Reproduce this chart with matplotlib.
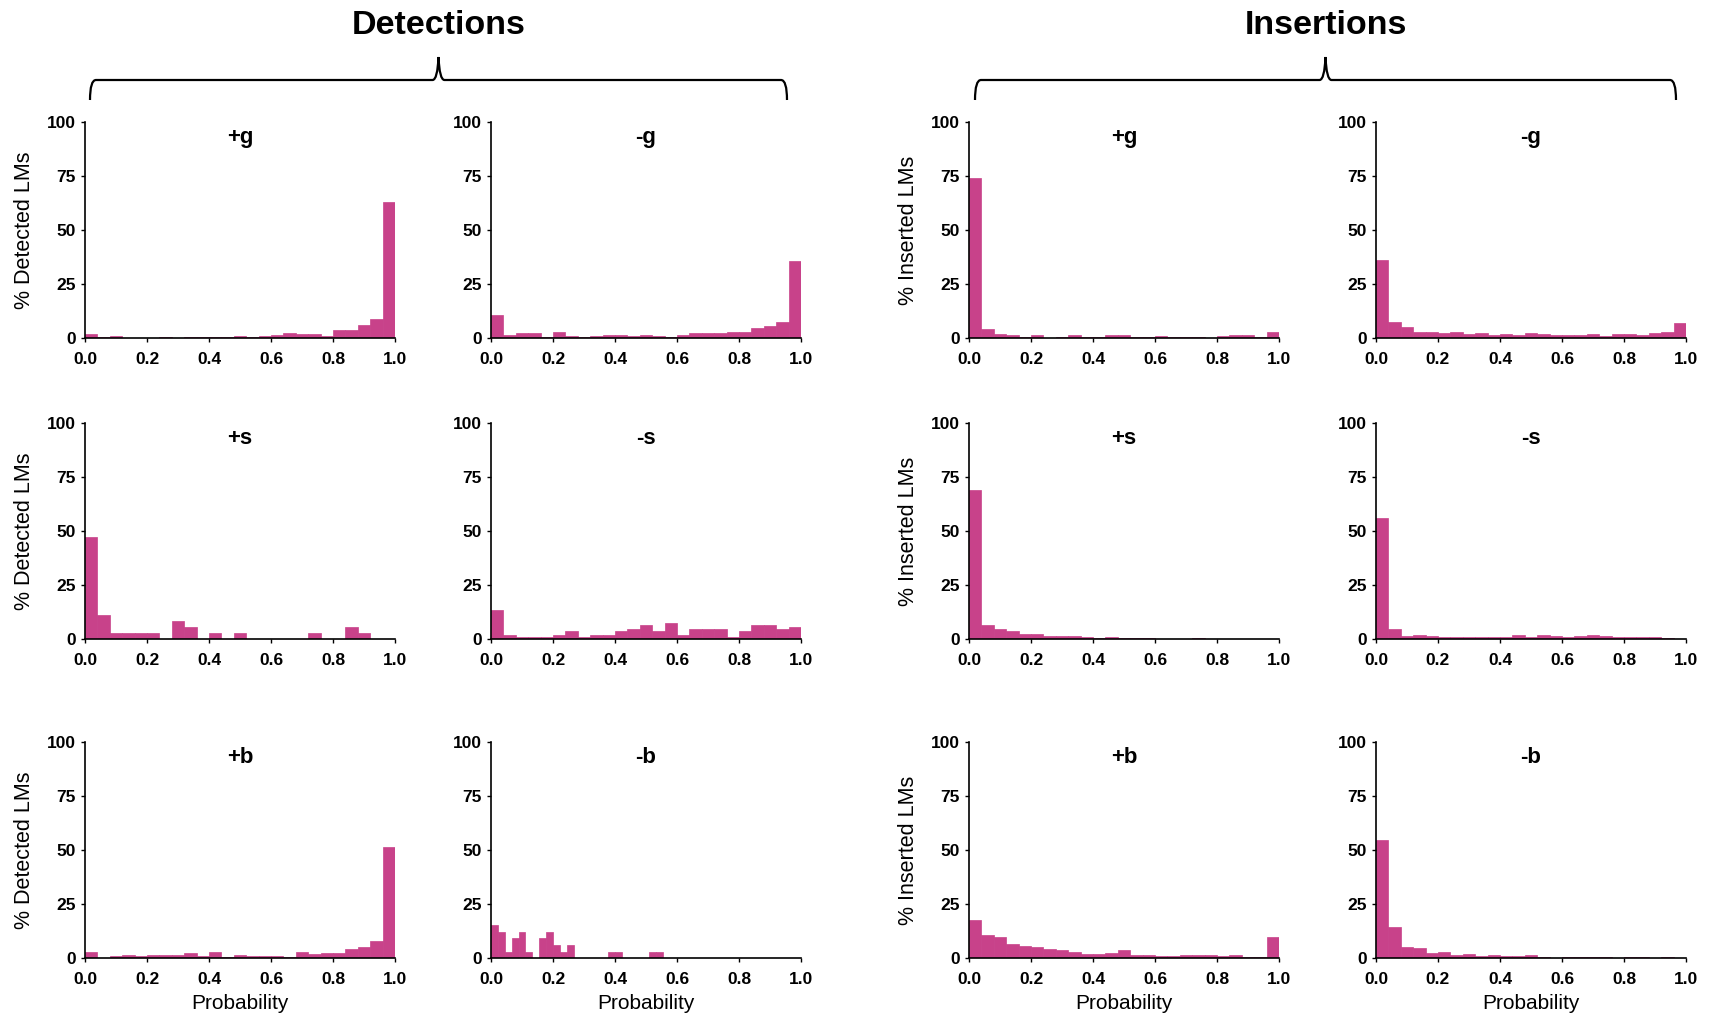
import numpy as np
import matplotlib.pyplot as plt
from matplotlib.path import Path
from matplotlib.patches import PathPatch

plt.rcParams['font.family'] = ['Liberation Sans', 'DejaVu Sans']

# 25 bins of width 0.04 (except Detections -b, 45 bins)
det_pg = [2, 0.5, 1, 0, 0, 0, 0.3, 0, 0.3, 0.3, 0.3, 0.3, 0.8, 0.3, 1, 1.5, 2.5, 2, 2, 1, 3.5, 3.5, 6, 9, 63]
det_mg = [10.5, 1.5, 2.5, 2.5, 0.5, 3, 1, 0.5, 1, 1.5, 1.5, 1, 1.5, 1, 0.5, 1.5, 2.5, 2.5, 2.5, 3, 3, 4.5, 5.5, 7.5, 35.5]
ins_pg = [74, 4, 2, 1.5, 0.5, 1.5, 0, 0.5, 1.5, 0.5, 0.5, 1.5, 1.5, 0.5, 0.5, 1, 0.3, 0.5, 0.5, 0, 1, 1.5, 1.5, 0.5, 3]
ins_mg = [36, 7.5, 5, 3, 3, 2.5, 3, 2, 2.5, 1.5, 2, 1.5, 2.5, 2, 1.5, 1.5, 1.5, 2, 1, 2, 2, 1.5, 2.5, 3, 7]

det_ps = [47.2, 11.1, 2.8, 2.8, 2.8, 2.8, 0, 8.3, 5.6, 0, 2.8, 0, 2.8, 0, 0, 0, 0, 0, 2.8, 0, 0, 5.6, 2.8, 0, 0]
det_ms = [13.5, 2, 1, 1, 1, 2, 3.5, 1, 2, 2, 3.5, 4.5, 6.5, 3.5, 7.5, 2, 4.5, 4.5, 4.5, 1, 3.5, 6.5, 6.5, 4.5, 5.5]
ins_ps = [69, 6.5, 4.5, 3.5, 2.5, 2.5, 1.5, 1.5, 1.5, 1, 0.3, 1, 0.5, 0.3, 0.3, 0.2, 0, 0.2, 0.3, 0.2, 0, 0.2, 0.1, 0, 0]
ins_ms = [56, 4.5, 1.5, 2, 1.5, 0.7, 1, 1, 0.7, 0.7, 0.7, 2, 0.7, 2, 1.2, 0.7, 1.5, 1.7, 1.2, 1, 1, 0.7, 1, 0.4, 0]

det_pb = [3, 0, 0.7, 1.5, 0.7, 1.5, 1.5, 1.5, 2.5, 1, 3, 0.3, 1.5, 1, 1, 1, 0.5, 3, 2, 2.5, 2.5, 4, 5, 8, 51.5]
det_mb = [15.2, 12.1, 3.0, 9.1, 12.1, 3.0, 0, 9.1, 12.1, 6.1, 3.0, 6.1, 0, 0, 0, 0, 0, 3.0, 3.0,
          0, 0, 0, 0, 3.0, 3.0] + [0] * 20
ins_pb = [17.5, 10.5, 9.5, 6.5, 5.5, 5, 4, 3.5, 3, 2, 2, 2.5, 3.5, 1.5, 1.5, 1, 0.7, 1.2, 1.5, 1.5, 0.8, 1.5, 0.5, 0.5, 9.5]
ins_mb = [54.5, 14.5, 5, 4.5, 2.5, 3, 1.5, 2, 1, 1.5, 0.7, 1, 1.5, 0.5, 0, 0.5, 0.5, 0.3, 0.3, 0, 0.5, 0.3, 0, 0.5, 0]

titles = [['+g', '-g', '+g', '-g'],
          ['+s', '-s', '+s', '-s'],
          ['+b', '-b', '+b', '-b']]
data = [[det_pg, det_mg, ins_pg, ins_mg],
        [det_ps, det_ms, ins_ps, ins_ms],
        [det_pb, det_mb, ins_pb, ins_mb]]
ylabels = ['% Detected LMs', None, '% Inserted LMs', None]

bar_color = '#C8428A'
W, H = 1718, 1026
col_x = [85, 491, 969, 1376]
row_y = [122, 423, 742]
ax_w, ax_h = 310, 216

fig = plt.figure(figsize=(W / 100, H / 100), dpi=100)

for r in range(3):
    for c in range(4):
        left = col_x[c] / W
        bottom = 1 - (row_y[r] + ax_h) / H
        ax = fig.add_axes([left, bottom, ax_w / W, ax_h / H])
        vals = data[r][c]
        n = len(vals)
        edges = np.linspace(0, 1, n + 1)
        ax.bar(edges[:-1], vals, width=1.0 / n, align='edge',
               color=bar_color, edgecolor=bar_color, linewidth=0.5)
        ax.set_xlim(0, 1)
        ax.set_ylim(0, 100)
        ax.set_xticks(np.arange(0, 1.01, 0.2))
        ax.set_xticklabels(['%.1f' % v for v in np.arange(0, 1.01, 0.2)])
        ax.set_yticks([0, 25, 50, 75, 100])
        for s in ['top', 'right']:
            ax.spines[s].set_visible(False)
        for s in ['left', 'bottom']:
            ax.spines[s].set_linewidth(1.2)
        ax.tick_params(axis='both', labelsize=12.5, length=3, width=1)
        ax.tick_params(axis='x', pad=7)
        for lab in ax.get_xticklabels() + ax.get_yticklabels():
            lab.set_fontweight('bold')
        ax.text(0.5, 0.93, titles[r][c], transform=ax.transAxes, ha='center',
                va='center', fontsize=16, fontweight='bold')
        if ylabels[c]:
            ax.set_ylabel(ylabels[c], fontsize=15.5)
            ax.yaxis.set_label_coords(-0.16, 0.5)
        if r == 2:
            ax.set_xlabel('Probability', fontsize=15, labelpad=5)


def brace(x0, x1, y_end, y_line, y_peak):
    # curly bracket in pixel coordinates (origin top-left)
    xm = (x0 + x1) / 2
    r = 6
    pts = [(x0, y_end), (x0, y_line), (x0 + r, y_line),
           (xm - 6, y_line), (xm - 1, y_line), (xm, y_peak),
           (xm + 1, y_line), (xm + 6, y_line),
           (x1 - r, y_line), (x1, y_line), (x1, y_end)]
    codes = [Path.MOVETO, Path.CURVE3, Path.CURVE3,
             Path.LINETO, Path.CURVE3, Path.CURVE3,
             Path.CURVE3, Path.CURVE3,
             Path.LINETO, Path.CURVE3, Path.CURVE3]
    verts = [(x / W, 1 - y / H) for x, y in pts]
    fig.add_artist(PathPatch(Path(verts, codes), transform=fig.transFigure,
                             fill=False, lw=1.6, color='black'))
    return xm


m1 = brace(90, 787, 100, 80, 57)
m2 = brace(975, 1676, 100, 80, 57)
fig.text(m1 / W, 1 - 26 / H, 'Detections', ha='center', va='center',
         fontsize=24.5, fontweight='bold')
fig.text(m2 / W, 1 - 26 / H, 'Insertions', ha='center', va='center',
         fontsize=24.5, fontweight='bold')

plt.savefig('out.png', dpi=100)
